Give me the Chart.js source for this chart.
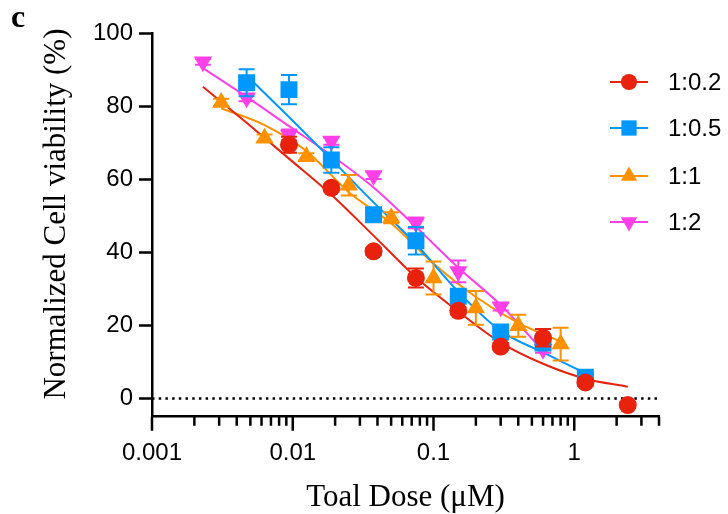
<!DOCTYPE html>
<html>
<head>
<meta charset="utf-8">
<script src="https://cdn.jsdelivr.net/npm/chart.js@4.4.0/dist/chart.umd.min.js"></script>
<style>
  html, body { margin: 0; padding: 0; background: #fff; }
  #wrap { width: 728px; height: 514px; }
</style>
</head>
<body>
<div id="wrap"><canvas id="canvas" width="728" height="514"></canvas></div>
<script>
// ratio series
const seriesNames = ['1:0.2', '1:0.5', '1:1', '1:2'];

// measured points (dose in uM, viability in %, +/- error)
const doseRed = [0.0094, 0.0188, 0.0375, 0.075, 0.15, 0.3, 0.6, 1.2, 2.4];
const viabRed = [69.5, 57.7, 40.3, 33.0, 24.0, 14.2, 16.6, 4.4, -1.8];
const errRed = [2.2, 1.0, 1.0, 2.6, 1.0, 1.0, 2.4, 1.0, 0.8];

const doseBlue = [0.0047, 0.0094, 0.0188, 0.0375, 0.075, 0.15, 0.3, 0.6, 1.2];
const viabBlue = [86.5, 84.6, 65.3, 50.3, 43.2, 28.0, 18.2, 15.2, 5.8];
const errBlue = [3.7, 4.0, 3.5, 1.5, 3.8, 1.5, 1.5, 1.0, 0.8];

const doseOrange = [0.0031, 0.0063, 0.0125, 0.025, 0.05, 0.1, 0.2, 0.4, 0.8];
const viabOrange = [81.1, 71.3, 66.2, 58.4, 49.5, 33.0, 24.8, 19.9, 14.9];
const errOrange = [1.0, 1.0, 1.0, 2.8, 1.5, 4.5, 4.6, 3.0, 4.5];

const dosePink = [0.0023, 0.0047, 0.0094, 0.0188, 0.0375, 0.075, 0.15, 0.3, 0.6];
const viabPink = [92.2, 82.4, 72.2, 70.5, 61.1, 48.1, 34.8, 25.1, 13.5];
const errPink = [0.8, 1.0, 1.5, 1.0, 1.0, 1.5, 3.0, 1.0, 1.0];

// fitted dose-response curves
const fitDoseRed = [0.0023, 0.0047, 0.0094, 0.0188, 0.0375, 0.075, 0.15, 0.3, 0.6, 1.2, 2.4];
const fitRed = [85.4, 75.5, 65.7, 55.8, 44.6, 33.2, 23.8, 15.3, 9.5, 5.4, 3.2];

const fitDoseBlue = [0.0049, 0.0094, 0.0188, 0.0375, 0.075, 0.15, 0.3, 0.6, 1.2];
const fitBlue = [87.8, 77.1, 65.5, 53.7, 42.3, 29.2, 18.5, 12.6, 6.9];

const fitDoseOrange = [0.0031, 0.0063, 0.0125, 0.025, 0.05, 0.1, 0.2, 0.4, 0.8];
const fitOrange = [79.5, 74.9, 67.8, 56.5, 48.0, 37.0, 27.8, 20.7, 15.6];

const fitDosePink = [0.0023, 0.0047, 0.0094, 0.0188, 0.0375, 0.075, 0.15, 0.3, 0.6];
const fitPink = [90.5, 82.6, 74.6, 66.6, 57.8, 47.0, 35.8, 25.6, 13.0];

// axis ticks
const xTickValues = [0.001, 0.01, 0.1, 1];
const xTickLabels = ['0.001', '0.01', '0.1', '1'];
const yTickValues = [0, 20, 40, 60, 80, 100];
const yTickLabels = ['0', '20', '40', '60', '80', '100'];

const colors = ['#E8220D', '#0098FF', '#FF9100', '#FF40E6'];
const markers = [
  { pointStyle: 'circle', radius: 9, rotation: 0 },
  { pointStyle: 'rect', radius: 12, rotation: 0 },
  { pointStyle: 'triangle', radius: 10.5, rotation: 0 },
  { pointStyle: 'triangle', radius: 10.5, rotation: 180 }
];

const doses = [doseRed, doseBlue, doseOrange, dosePink];
const viabs = [viabRed, viabBlue, viabOrange, viabPink];
const errs = [errRed, errBlue, errOrange, errPink];
const fitDoses = [fitDoseRed, fitDoseBlue, fitDoseOrange, fitDosePink];
const fits = [fitRed, fitBlue, fitOrange, fitPink];

const toXY = (xs, ys) => xs.map((x, i) => ({ x: x, y: ys[i] }));

const serif = "'Liberation Serif', 'Times New Roman', serif";
const sans = "'Liberation Sans', Arial, sans-serif";

var datasets = [];
seriesNames.forEach(function (name, i) {
  datasets.push({
    label: name,
    data: toXY(doses[i], viabs[i]),
    errorBars: errs[i],
    showLine: false,
    backgroundColor: colors[i],
    borderColor: colors[i],
    borderWidth: 0,
    pointStyle: markers[i].pointStyle,
    pointRadius: markers[i].radius,
    pointRotation: markers[i].rotation,
    pointHoverRadius: markers[i].radius,
    order: i
  });
});
seriesNames.forEach(function (name, i) {
  datasets.push({
    label: name + ' fit',
    data: toXY(fitDoses[i], fits[i]),
    borderColor: colors[i],
    borderWidth: 2,
    pointRadius: 0,
    fill: false,
    cubicInterpolationMode: 'monotone',
    order: 10 + i
  });
});
// dotted zero line
datasets.push({
  label: 'zero',
  data: [{ x: 0.001, y: 0 }, { x: 4, y: 0 }],
  borderColor: '#000',
  borderWidth: 2.5,
  borderDash: [2.5, 4.2],
  pointRadius: 0,
  fill: false,
  order: 20
});

// error bars under each marker set
const errorBarPlugin = {
  id: 'errorBars',
  beforeDatasetDraw(chart, args) {
    var ds = chart.data.datasets[args.index];
    if (!ds.errorBars) return;
    var ctx = chart.ctx, xs = chart.scales.x, ys = chart.scales.y;
    ctx.save();
    ctx.strokeStyle = ds.borderColor;
    ctx.lineWidth = 2;
    ds.data.forEach(function (p, j) {
      var e = ds.errorBars[j];
      var px = xs.getPixelForValue(p.x);
      var top = ys.getPixelForValue(p.y + e);
      var bot = ys.getPixelForValue(p.y - e);
      ctx.beginPath();
      ctx.moveTo(px, top); ctx.lineTo(px, bot);
      ctx.moveTo(px - 8, top); ctx.lineTo(px + 8, top);
      ctx.moveTo(px - 8, bot); ctx.lineTo(px + 8, bot);
      ctx.stroke();
    });
    ctx.restore();
  }
};

// tick marks, axis titles, legend and panel letter
const decorPlugin = {
  id: 'decor',
  afterDraw(chart) {
    var ctx = chart.ctx, xs = chart.scales.x, ys = chart.scales.y;
    var area = chart.chartArea;
    ctx.save();
    ctx.strokeStyle = '#000';
    ctx.lineWidth = 2.5;
    ctx.beginPath();
    yTickValues.forEach(function (v) {
      var py = ys.getPixelForValue(v);
      ctx.moveTo(area.left - 13, py); ctx.lineTo(area.left, py);
    });
    for (var d = 0.001; d < 5; d *= 10) {
      for (var m = 1; m <= 9; m++) {
        var v = d * m;
        if (v > 4.0001) break;
        var px = xs.getPixelForValue(v);
        ctx.moveTo(px, area.bottom);
        ctx.lineTo(px, area.bottom + (m === 1 ? 14 : 9));
      }
    }
    ctx.stroke();

    ctx.fillStyle = '#000';
    ctx.textAlign = 'center';
    ctx.textBaseline = 'middle';
    ctx.font = '31px ' + serif;
    ctx.fillText('Toal Dose (\u03BCM)', (area.left + area.right) / 2, 498);
    ctx.save();
    ctx.translate(57, 214);
    ctx.rotate(-Math.PI / 2);
    ctx.fillText('Normalized Cell viability (%)', 0, 0);
    ctx.restore();

    ctx.textAlign = 'left';
    ctx.textBaseline = 'alphabetic';
    ctx.font = 'bold 32px ' + serif;
    ctx.fillText('c', 11, 27);

    // legend
    var rows = [82, 128, 176, 222];
    ctx.font = '24px ' + sans;
    ctx.textBaseline = 'middle';
    seriesNames.forEach(function (name, i) {
      var y = rows[i];
      ctx.strokeStyle = colors[i];
      ctx.lineWidth = 2;
      ctx.beginPath();
      ctx.moveTo(610, y); ctx.lineTo(648, y);
      ctx.stroke();
      ctx.fillStyle = colors[i];
      Chart.helpers.drawPoint(ctx, {
        pointStyle: markers[i].pointStyle,
        radius: markers[i].radius * 0.9,
        rotation: markers[i].rotation,
        borderWidth: 0
      }, 629, y);
      ctx.fillStyle = '#000';
      ctx.fillText(name, 668, y + 1);
    });
    ctx.restore();
  }
};

var ctx = document.getElementById('canvas').getContext('2d');
window.viabChart = new Chart(ctx, {
  type: 'line',
  data: { datasets: datasets },
  options: {
    responsive: false,
    animation: false,
    devicePixelRatio: 1,
    layout: { padding: { top: 29, right: 69, left: 0, bottom: 0 } },
    plugins: {
      legend: { display: false },
      tooltip: { enabled: false }
    },
    scales: {
      x: {
        type: 'logarithmic',
        min: 0.001,
        max: 4,
        afterBuildTicks: function (s) { s.ticks = xTickValues.map(v => ({ value: v })); },
        afterFit: function (s) { s.height = 97.3; },
        grid: { display: false, drawTicks: false, tickLength: 0 },
        border: { display: true, color: '#000', width: 2.5 },
        ticks: {
          color: '#000',
          font: { family: sans, size: 24 },
          padding: 22,
          maxRotation: 0,
          autoSkip: false,
          callback: function (v, i) { return xTickLabels[i]; }
        }
      },
      y: {
        min: -5,
        max: 100,
        afterBuildTicks: function (s) { s.ticks = yTickValues.map(v => ({ value: v })); },
        afterFit: function (s) { s.width = 152; },
        grid: { display: false, drawTicks: false, tickLength: 0 },
        border: { display: true, color: '#000', width: 2.5 },
        ticks: {
          color: '#000',
          font: { family: sans, size: 24 },
          padding: 19,
          callback: function (v, i) { return yTickLabels[i]; }
        }
      }
    }
  },
  plugins: [errorBarPlugin, decorPlugin]
});
</script>
</body>
</html>
